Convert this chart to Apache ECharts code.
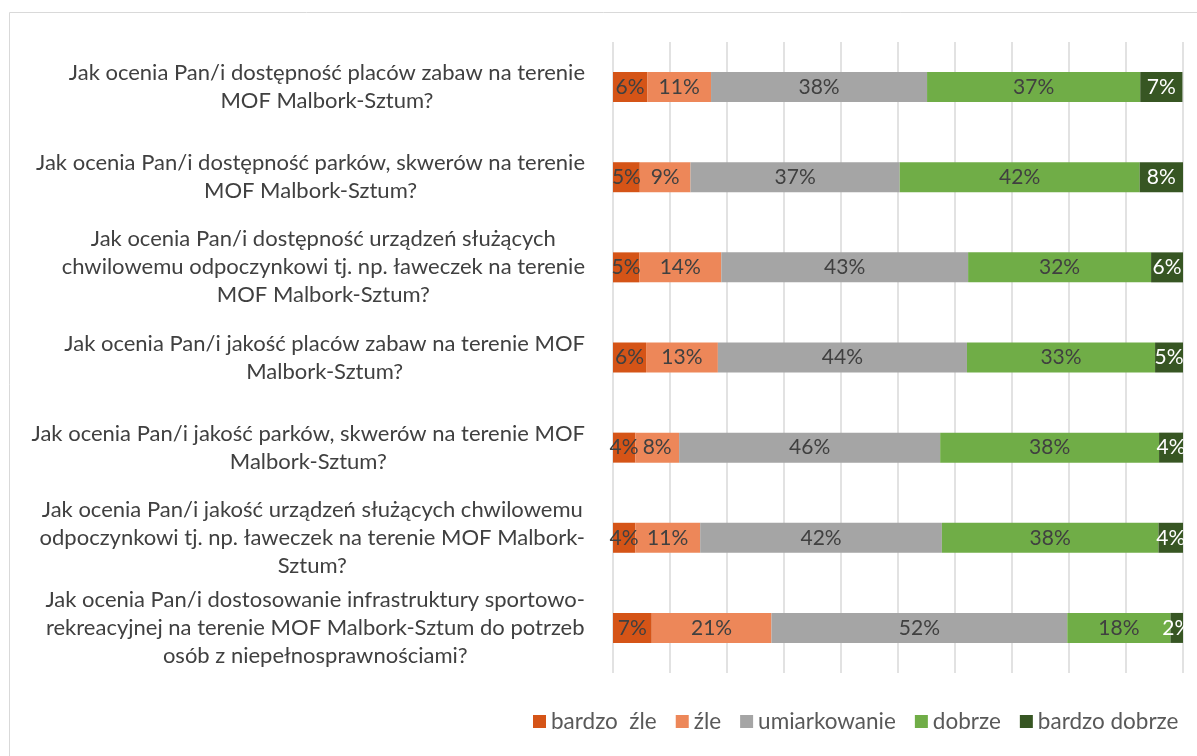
<!DOCTYPE html>
<html>
<head>
<meta charset="utf-8">
<script src="https://cdn.jsdelivr.net/npm/echarts@6/dist/echarts.min.js"></script>
<style>
  html, body { margin: 0; padding: 0; background: #fff; }
  #chart { width: 1197px; height: 756px; }
</style>
</head>
<body>
<div id="chart"></div>
<script>
  // pytania (kategorie osi Y), z podziałem na linie jak w oryginale
  const categories = [
    'Jak ocenia Pan/i dostępność placów zabaw na terenie\nMOF Malbork-Sztum?',
    'Jak ocenia Pan/i dostępność parków, skwerów na terenie\nMOF Malbork-Sztum?',
    'Jak ocenia Pan/i dostępność urządzeń służących\nchwilowemu odpoczynkowi tj. np. ławeczek na terenie\nMOF Malbork-Sztum?',
    'Jak ocenia Pan/i jakość placów zabaw na terenie MOF\nMalbork-Sztum?',
    'Jak ocenia Pan/i jakość parków, skwerów na terenie MOF\nMalbork-Sztum?',
    'Jak ocenia Pan/i jakość urządzeń służących chwilowemu\nodpoczynkowi tj. np. ławeczek na terenie MOF Malbork-\nSztum?',
    'Jak ocenia Pan/i dostosowanie infrastruktury sportowo-\nrekreacyjnej na terenie MOF Malbork-Sztum do potrzeb\nosób z niepełnosprawnościami?'
  ];

  const seriesNames = ['bardzo  źle', 'źle', 'umiarkowanie', 'dobrze', 'bardzo dobrze'];

  // udziały odpowiedzi w %
  const bardzoZle    = [6.0, 4.7, 4.6, 5.8, 3.9, 3.9, 6.8];
  const zle          = [11.2, 8.9, 14.4, 12.6, 7.7, 11.4, 21.0];
  const umiarkowanie = [37.9, 36.7, 43.3, 43.7, 45.8, 42.4, 51.9];
  const dobrze       = [37.4, 42.1, 32.1, 33.0, 38.4, 38.0, 18.1];
  const bardzoDobrze = [7.4, 7.6, 5.6, 4.9, 4.2, 4.3, 2.2];

  const xTicks = [0, 10, 20, 30, 40, 50, 60, 70, 80, 90, 100];

  const colors = ['#D55417', '#ED8759', '#A5A5A5', '#70AD47', '#375623'];
  const labelColors = ['#404040', '#404040', '#404040', '#404040', '#ffffff'];
  const values = [bardzoZle, zle, umiarkowanie, dobrze, bardzoDobrze];

  const FONT = 'Lato, "Open Sans", sans-serif';

  let myChart = echarts.init(document.getElementById('chart'));

  myChart.setOption({
    color: colors,
    animation: false,
    textStyle: { fontFamily: FONT },
    // ramka wykresu
    graphic: [{
      type: 'rect',
      shape: { x: 9.5, y: 12.5, width: 1300, height: 800 },
      style: { fill: 'none', stroke: '#d9d9d9', lineWidth: 1 },
      silent: true
    }],
    legend: {
      data: seriesNames,
      left: 528,
      top: 705,
      icon: 'rect',
      itemWidth: 13,
      itemHeight: 13,
      itemGap: 19,
      textStyle: { fontSize: 22.5, color: '#595959', fontFamily: FONT, padding: [0, 0, 0, 0] }
    },
    grid: {
      left: 613,
      right: 14,
      top: 42,
      bottom: 83
    },
    xAxis: {
      type: 'value',
      min: xTicks[0],
      max: xTicks[xTicks.length - 1],
      interval: xTicks[1] - xTicks[0],
      axisLabel: { show: false },
      axisLine: { show: false },
      axisTick: { show: false },
      splitLine: { lineStyle: { color: '#d9d9d9', width: 1.5 } }
    },
    yAxis: {
      type: 'category',
      inverse: true,
      data: categories,
      axisLine: { show: false },
      axisTick: { show: false },
      axisLabel: {
        margin: 28,
        fontSize: 22,
        color: '#404040',
        fontFamily: FONT,
        lineHeight: 28,
        // linie wyśrodkowane wewnątrz bloku wyrównanego do prawej
        formatter: function (v) {
          return v.split('\n').map(function (l) { return '{c|' + l + '}'; }).join('\n');
        },
        rich: {
          c: { align: 'center', fontSize: 22, color: '#404040', fontFamily: FONT, lineHeight: 28 }
        }
      }
    },
    series: seriesNames.map(function (name, i) {
      return {
        name: name,
        type: 'bar',
        stack: 'total',
        barWidth: 30,
        data: values[i],
        label: {
          show: true,
          position: 'inside',
          fontSize: 21,
          fontFamily: FONT,
          color: labelColors[i],
          formatter: function (p) { return Math.round(p.value) + '%'; }
        }
      };
    })
  });

  window.addEventListener('resize', function () { myChart.resize() });
</script>
</body>
</html>
